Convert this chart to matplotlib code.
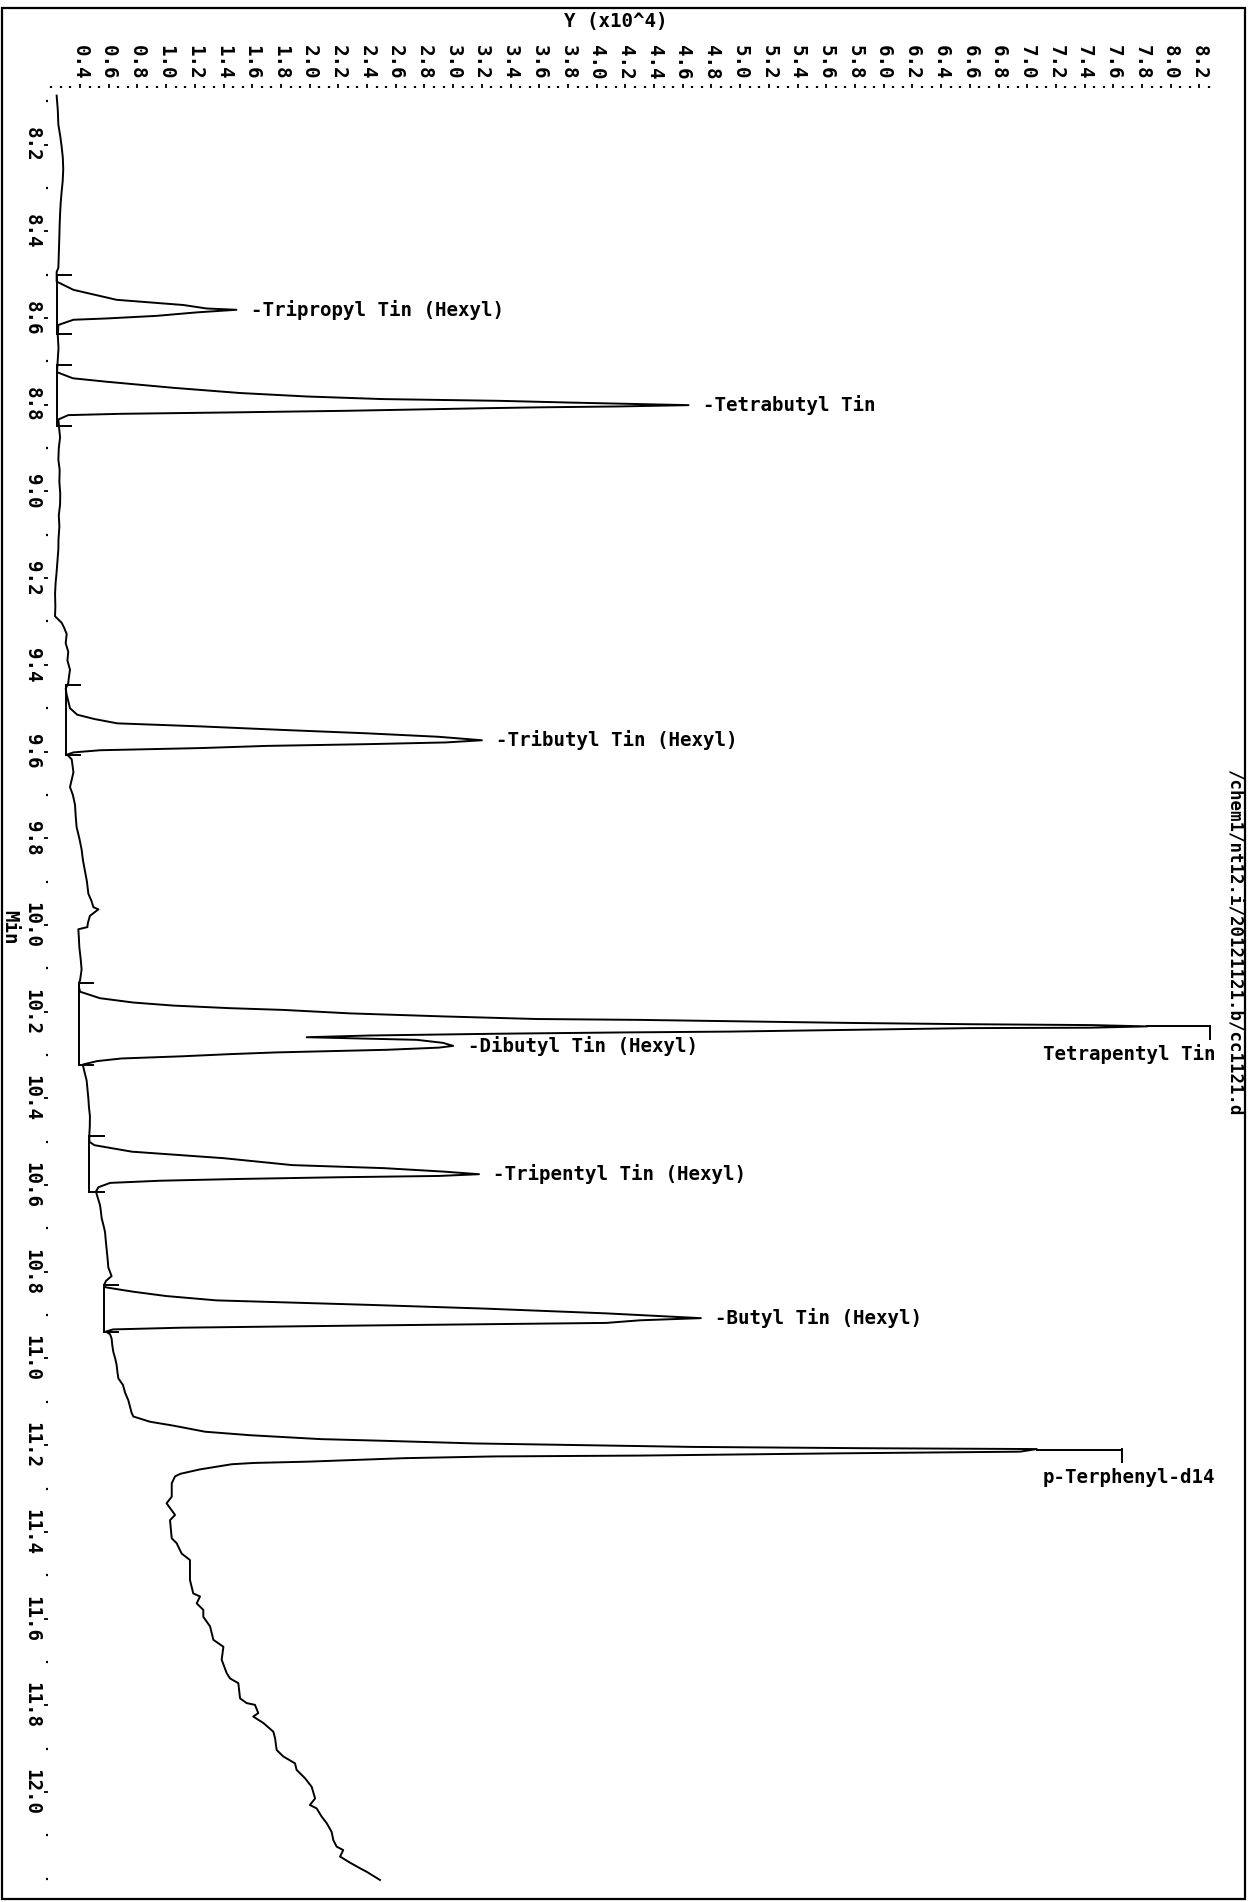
# Cromatograma (rotado) de compuestos organoestanicos
# Eje vertical: tiempo de retencion [min], eje horizontal: abundancia (x10^4)

import matplotlib
matplotlib.use('Agg')
import matplotlib.pyplot as plt
from matplotlib.ticker import MultipleLocator, FormatStrFormatter

# Traza: tiempo [min] y abundancia [x10^4]
tiempo = [
    8.087, 8.120, 8.154, 8.180, 8.205, 8.230, 8.257, 8.285, 8.308, 8.335,
    8.360, 8.385, 8.411, 8.450, 8.484, 8.494,
    8.516, 8.535, 8.558, 8.570, 8.578, 8.581, 8.587, 8.595, 8.601, 8.604, 8.616,
    8.640, 8.670, 8.700,
    8.725, 8.739, 8.747, 8.761, 8.773, 8.781, 8.787, 8.791, 8.795, 8.798,
    8.801, 8.804, 8.806, 8.808, 8.814, 8.818, 8.821, 8.824, 8.834,
    8.860, 8.875, 8.900, 8.927, 8.950, 8.978, 9.005, 9.030, 9.055, 9.081,
    9.110, 9.133, 9.160, 9.185, 9.210, 9.236, 9.265, 9.288, 9.303, 9.315,
    9.329, 9.350, 9.370, 9.390, 9.411, 9.430, 9.442, 9.455,
    9.469, 9.500, 9.515, 9.525, 9.535, 9.542, 9.550, 9.558, 9.566, 9.574,
    9.579, 9.583, 9.587, 9.592, 9.597, 9.602, 9.607,
    9.618, 9.648, 9.682, 9.700, 9.723, 9.750, 9.774, 9.800, 9.826, 9.850,
    9.877, 9.900, 9.928, 9.945, 9.959, 9.964, 9.979, 9.995, 10.005, 10.010,
    10.030, 10.051, 10.080, 10.103, 10.128, 10.133,
    10.144, 10.154, 10.169, 10.179, 10.186, 10.192, 10.196, 10.204, 10.211,
    10.217, 10.219, 10.222, 10.226, 10.229, 10.231, 10.234, 10.237, 10.238,
    10.242, 10.246, 10.248, 10.251, 10.255, 10.259, 10.261, 10.265, 10.272,
    10.279, 10.283, 10.288, 10.294, 10.298, 10.303, 10.308, 10.314, 10.322,
    10.328, 10.359, 10.380, 10.400, 10.420, 10.441, 10.465, 10.482,
    10.500, 10.508, 10.523, 10.538, 10.554, 10.561, 10.569, 10.575, 10.579,
    10.582, 10.586, 10.590, 10.595, 10.605, 10.615,
    10.621, 10.646, 10.660, 10.677, 10.695, 10.708, 10.730, 10.749, 10.770,
    10.790, 10.810, 10.821, 10.831,
    10.836, 10.846, 10.856, 10.866, 10.876, 10.885, 10.896, 10.907, 10.912,
    10.918, 10.924, 10.929, 10.933, 10.938,
    10.944, 10.954, 10.970, 10.985, 11.000, 11.015, 11.030, 11.046, 11.061,
    11.080, 11.096, 11.126, 11.134, 11.146, 11.155, 11.169, 11.177, 11.186,
    11.190, 11.196, 11.199, 11.204, 11.207, 11.209,
    11.215, 11.219, 11.224, 11.226, 11.230, 11.238, 11.241, 11.244, 11.256,
    11.266, 11.272, 11.288,
    11.319, 11.334, 11.361, 11.373, 11.415, 11.426, 11.450, 11.465, 11.511,
    11.542, 11.549, 11.565, 11.580, 11.596, 11.618, 11.649, 11.665, 11.695,
    11.726, 11.738, 11.749, 11.784, 11.795, 11.799, 11.818, 11.826, 11.841,
    11.861, 11.876, 11.903, 11.918, 11.934, 11.949, 11.968, 11.988, 12.015,
    12.030, 12.038, 12.057, 12.072, 12.092, 12.111, 12.126, 12.134, 12.149,
    12.163, 12.176, 12.184, 12.203,
]
abundancia = [
    0.237, 0.245, 0.249, 0.262, 0.272, 0.280, 0.283, 0.279, 0.272, 0.265,
    0.261, 0.258, 0.256, 0.252, 0.249, 0.237,
    0.237, 0.354, 0.655, 1.120, 1.282, 1.490, 1.213, 0.934, 0.586, 0.354, 0.249,
    0.245, 0.250, 0.244,
    0.240, 0.350, 0.586, 1.050, 1.515, 1.980, 2.510, 3.320, 3.810, 4.240,
    4.640, 4.150, 3.605, 3.233, 2.258, 1.399, 0.679, 0.318, 0.249,
    0.256, 0.261, 0.252, 0.249, 0.258, 0.256, 0.262, 0.261, 0.252, 0.256,
    0.250, 0.249, 0.243, 0.237, 0.230, 0.226, 0.228, 0.226, 0.272, 0.290,
    0.307, 0.300, 0.318, 0.312, 0.330, 0.322, 0.318, 0.300,
    0.307, 0.330, 0.380, 0.500, 0.660, 1.240, 1.800, 2.400, 2.900, 3.200,
    2.950, 2.400, 1.700, 1.240, 0.540, 0.354, 0.310,
    0.342, 0.354, 0.330, 0.350, 0.365, 0.370, 0.376, 0.395, 0.411, 0.420,
    0.435, 0.448, 0.458, 0.480, 0.493, 0.528, 0.469, 0.455, 0.451, 0.388,
    0.392, 0.395, 0.405, 0.411, 0.400, 0.393,
    0.393, 0.400, 0.539, 0.772, 1.050, 1.445, 1.816, 2.281, 2.932,
    3.582, 4.300, 4.929, 5.757, 6.602, 7.447, 7.836, 7.447, 6.602,
    5.757, 4.929, 4.163, 3.291, 2.420, 1.979, 2.234, 2.746, 2.930,
    3.000, 2.900, 2.537, 1.771, 1.445, 1.110, 0.690, 0.520, 0.420,
    0.423, 0.446, 0.452, 0.458, 0.462, 0.469, 0.468, 0.465,
    0.465, 0.500, 0.761, 1.400, 1.879, 2.518, 2.935, 3.180, 2.900,
    2.200, 1.500, 0.960, 0.610, 0.528, 0.511,
    0.516, 0.539, 0.545, 0.551, 0.565, 0.574, 0.580, 0.586, 0.592,
    0.597, 0.620, 0.581, 0.567,
    0.580, 0.770, 1.000, 1.350, 2.377, 3.222, 4.067, 4.726, 4.300,
    4.067, 2.377, 1.110, 0.630, 0.580,
    0.609, 0.620, 0.625, 0.632, 0.645, 0.655, 0.660, 0.667, 0.699,
    0.715, 0.736, 0.760, 0.772, 0.888, 1.051, 1.272, 1.583, 2.073,
    2.525, 3.149, 3.727, 4.662, 5.865, 7.067,
    6.950, 5.642, 4.306, 3.282, 2.659, 1.991, 1.613, 1.457, 1.234,
    1.100, 1.062, 1.039,
    1.039, 1.003, 1.062, 1.027, 1.039, 1.073, 1.108, 1.166, 1.166,
    1.189, 1.236, 1.213, 1.259, 1.259, 1.306, 1.329, 1.399, 1.387,
    1.422, 1.445, 1.503, 1.515, 1.561, 1.619, 1.642, 1.607, 1.678,
    1.747, 1.759, 1.770, 1.816, 1.898, 1.909, 1.967, 2.014, 2.038,
    2.002, 2.049, 2.084, 2.119, 2.153, 2.165, 2.188, 2.234, 2.212,
    2.281, 2.351, 2.397, 2.490,
]

# Picos identificados
nombres = ['Tripropyl Tin (Hexyl)', 'Tetrabutyl Tin', 'Tributyl Tin (Hexyl)',
           'Tetrapentyl Tin', 'Dibutyl Tin (Hexyl)', 'Tripentyl Tin (Hexyl)',
           'Butyl Tin (Hexyl)', 'p-Terphenyl-d14']
rt_pico = [8.581, 8.801, 9.574, 10.234, 10.279, 10.575, 10.907, 11.210]
alto_pico = [1.49, 4.64, 3.20, 7.836, 3.00, 3.18, 4.726, 7.067]
# Estandares internos: linea guia hasta una marca en T
fin_guia = [None, None, None, 8.275, None, None, None, 7.658]

# Integracion: inicio, fin y nivel de la linea base
inicio_int = [8.501, 8.708, 9.447, 10.133, None, 10.487, 10.831, None]
fin_int = [8.637, 8.848, 9.607, 10.323, None, 10.615, 10.938, None]
base_int = [0.237, 0.240, 0.300, 0.393, None, 0.465, 0.567, None]

ruta = '/chem1/nt12.i/20121121.b/cc1121.d'

plt.rcParams['font.family'] = ['DejaVu Sans Mono']
plt.rcParams['font.weight'] = 'bold'
fs = 13.8
lw = 1.4

fig = plt.figure(figsize=(12.49, 19.02), dpi=100)
ax = fig.add_axes([0.0388, 0.0077, 0.933, 0.9459])

ax.plot(abundancia, tiempo, color='black', lw=lw)

# Lineas base y marcas de integracion
for i in range(len(nombres)):
    if inicio_int[i] is None:
        continue
    ax.plot([base_int[i], base_int[i]], [inicio_int[i], fin_int[i]], color='black', lw=lw)
    ax.plot([base_int[i], base_int[i] + 0.1], [inicio_int[i], inicio_int[i]], color='black', lw=lw)
    ax.plot([base_int[i], base_int[i] + 0.1], [fin_int[i], fin_int[i]], color='black', lw=lw)

# Etiquetas de los picos
for i in range(len(nombres)):
    if fin_guia[i] is None:
        ax.text(alto_pico[i] + 0.1, rt_pico[i], '-' + nombres[i], fontsize=fs,
                ha='left', va='center')
    else:
        ax.plot([alto_pico[i], fin_guia[i]], [rt_pico[i], rt_pico[i]], color='black', lw=lw)
        ax.plot([fin_guia[i], fin_guia[i]], [rt_pico[i] - 0.002, rt_pico[i] + 0.028],
                color='black', lw=lw)
        ax.text(8.31, rt_pico[i] + 0.064, nombres[i], fontsize=fs, ha='right', va='center')

ax.set_xlim(0.18, 8.3)
ax.set_ylim(12.22, 8.07)

for s in ax.spines.values():
    s.set_visible(False)

ax.xaxis.tick_top()
ax.xaxis.set_minor_locator(MultipleLocator(0.2 / 3))
ax.xaxis.set_major_formatter(FormatStrFormatter('%.1f'))
ax.set_xticks([v / 10 for v in range(4, 83, 2)])
ax.yaxis.set_minor_locator(MultipleLocator(0.1))
ax.yaxis.set_major_formatter(FormatStrFormatter('%.1f'))
ax.set_yticks([v / 10 for v in range(82, 121, 2)])

ax.tick_params(axis='both', which='major', length=3, width=1.3, labelsize=fs, pad=3)
ax.tick_params(axis='both', which='minor', length=1.3, width=1.6)
ax.tick_params(axis='x', labelrotation=-90)
ax.tick_params(axis='y', labelrotation=-90, pad=2)
for lbl in ax.get_yticklabels():
    lbl.set_va('center')

# Textos fuera del area de datos
fig.text(0.493, 0.9885, 'Y (x10^4)', fontsize=fs, ha='center', va='center')
fig.text(0.0078, 0.5123, 'Min', fontsize=fs, rotation=-90, ha='center', va='center')
fig.text(0.9873, 0.5047, ruta, fontsize=12.5, rotation=-90, ha='center', va='center')

# Marco exterior
fig.add_artist(plt.Rectangle((0.002, 0.0016), 0.995, 0.994, fill=False, lw=1.6,
                             color='black', transform=fig.transFigure))

plt.savefig('out.png', dpi=100)
